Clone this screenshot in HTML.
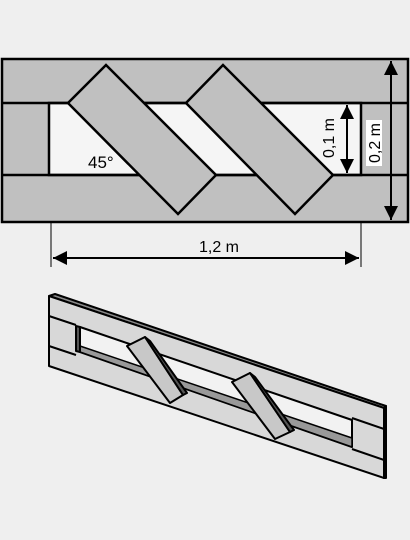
<!DOCTYPE html>
<html><head><meta charset="utf-8"><style>
html,body{margin:0;padding:0;background:#efefef;}
svg{display:block;font-family:"Liberation Sans",sans-serif;}
</style></head><body>
<svg width="410" height="540" viewBox="0 0 410 540">
<defs>
<marker id="ah" viewBox="0 0 10 10" refX="10" refY="5" markerWidth="7" markerHeight="7" orient="auto-start-reverse"><path d="M0,0L10,5L0,10z" fill="#000"/></marker>
</defs>
<g stroke="#000" stroke-width="2.5">
<rect x="2" y="59" width="406" height="163" fill="#c0c0c0"/>
<rect x="49" y="103" width="312" height="72" fill="#f5f5f5"/>
<line x1="2" y1="103" x2="408" y2="103"/>
<line x1="2" y1="175" x2="408" y2="175"/>
<polygon points="106,65 68,103 178,214 216,175" fill="#c0c0c0"/>
<polygon points="223,65 186,103 295,214 333,175" fill="#c0c0c0"/>
</g>
<g stroke="#000" stroke-width="2">
<line x1="391" y1="61" x2="391" y2="220" marker-start="url(#ah)" marker-end="url(#ah)"/>
<line x1="347" y1="105" x2="347" y2="173" marker-start="url(#ah)" marker-end="url(#ah)"/>
<line x1="51" y1="222" x2="51" y2="267" stroke-width="1"/>
<line x1="361" y1="222" x2="361" y2="267" stroke-width="1"/>
<line x1="53" y1="258" x2="359" y2="258" marker-start="url(#ah)" marker-end="url(#ah)"/>
</g>
<rect x="366" y="120" width="16" height="46" fill="#fff"/>
<text x="380" y="143" font-size="16" text-anchor="middle" transform="rotate(-90 380 143)">0,2 m</text>
<text x="334" y="138" font-size="16" text-anchor="middle" transform="rotate(-90 334 138)">0,1 m</text>
<text x="88" y="168" font-size="17">45°</text>
<text x="219" y="252" font-size="16" text-anchor="middle">1,2 m</text>
<g stroke="#000" stroke-width="2" stroke-linejoin="round">
<polygon points="49,296 55,294 386,406 384,408" fill="#888"/>
<polygon points="49,296 384,408 384,478 49,366" fill="#d8d8d8"/>
<polygon points="80,327 352,420 352,447 80,352" fill="#f2f2f2"/>
<polygon points="80,346 352,438 352,447 80,352" fill="#999" stroke-width="1.5"/>
<polygon points="76,326 80,327 80,352 76,351" fill="#555"/>
<line x1="49" y1="316" x2="76" y2="325" />
<line x1="49" y1="346" x2="76" y2="355" />
<line x1="352" y1="418" x2="384" y2="429"/>
<line x1="352" y1="449" x2="384" y2="460"/>
<polygon points="384,408 386,406 386,478 384,478" fill="#555"/>
<polygon points="127,346 145,337 183,395 170,403" fill="#c8c8c8"/>
<polygon points="145,337 150,341 187,393 183,395" fill="#555"/>
<polygon points="232,382 250,373 290,432 275,439" fill="#c8c8c8"/>
<polygon points="250,373 255,377 294,430 290,432" fill="#555"/>
</g>
</svg>
</body></html>
